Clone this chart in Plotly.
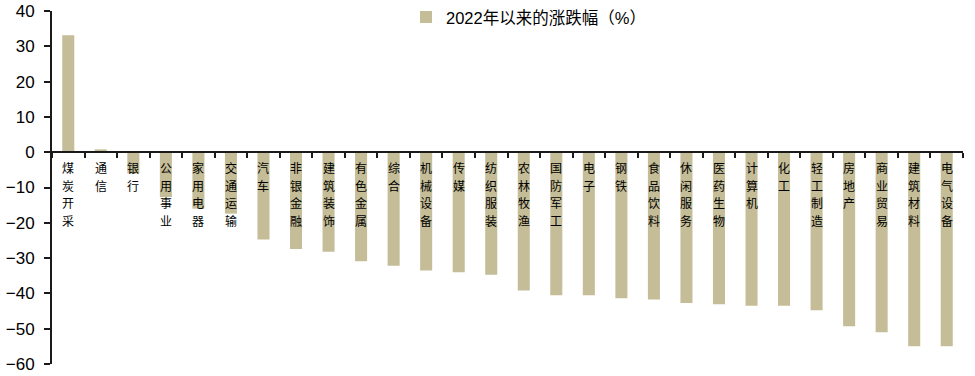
import plotly.graph_objects as go

categories = ["煤炭开采", "通信", "银行", "公用事业", "家用电器", "交通运输", "汽车",
              "非银金融", "建筑装饰", "有色金属", "综合", "机械设备", "传媒", "纺织服装",
              "农林牧渔", "国防军工", "电子", "钢铁", "食品饮料", "休闲服务", "医药生物",
              "计算机", "化工", "轻工制造", "房地产", "商业贸易", "建筑材料", "电气设备"]
values = [33.1, 0.8, -6.0, -12.7, -16.0, -17.4, -24.7,
          -27.4, -28.2, -30.9, -32.2, -33.5, -34.0, -34.7,
          -39.2, -40.5, -40.5, -41.4, -41.7, -42.7, -43.1,
          -43.5, -43.5, -44.8, -49.3, -51.0, -55.0, -55.0]
series_name = "2022年以来的涨跌幅（%）"
y_ticks = [40, 30, 20, 10, 0, -10, -20, -30, -40, -50, -60]

BAR = "#c4bd97"
AXIS = "#1a1a1a"
LABEL_SIZE = 12
LABEL_PITCH = 17.6

fig = go.Figure()
fig.add_trace(go.Bar(x=categories, y=values, name=series_name,
                     marker=dict(color=BAR, line=dict(width=0)),
                     showlegend=True))

# vertical (stacked) category labels hanging below the zero axis
for c in categories:
    for i, ch in enumerate(c):
        fig.add_annotation(x=c, y=0, xref="x", yref="y", yanchor="top", xanchor="center",
                           yshift=-6 - i * LABEL_PITCH, showarrow=False,
                           text=ch, borderpad=0,
                           font=dict(family="Noto Sans CJK SC", size=LABEL_SIZE, color="#000000"))

fig.update_layout(
    width=975, height=376,
    margin=dict(l=52, r=12, t=11, b=12, autoexpand=False),
    paper_bgcolor="white", plot_bgcolor="white",
    bargap=0.63,
    font=dict(family="Liberation Sans, Arial, Noto Sans CJK SC", color="#000000"),
    legend=dict(x=0.3886, y=0.982, xanchor="left", yanchor="middle",
                font=dict(family="Liberation Sans, Noto Sans CJK SC", size=16.5, color="#000"),
                bgcolor="rgba(0,0,0,0)", itemwidth=30),
    xaxis=dict(type="category", showticklabels=False, showgrid=False, zeroline=False,
               showline=True, linecolor=AXIS, linewidth=2, automargin=False,
               ticks="outside", ticklen=5, tickwidth=2, tickcolor=AXIS,
               tickson="boundaries", anchor="free", position=0.6),
    yaxis=dict(range=[-60, 40], tickvals=y_ticks, showgrid=False, zeroline=False,
               showline=True, linecolor=AXIS, linewidth=2, automargin=False,
               ticks="outside", ticklen=6, tickwidth=2, tickcolor=AXIS,
               ticklabelstandoff=6,
               tickfont=dict(size=17, family="Liberation Sans, Arial", color="#000")),
)

fig.write_html("out.html")
